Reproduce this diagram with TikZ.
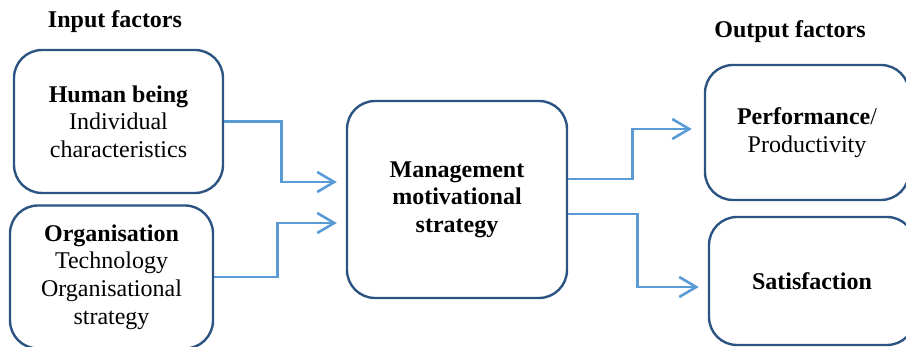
\documentclass[tikz,border=0pt]{standalone}
\usepackage{fontspec}
\setmainfont{Liberation Serif}
\usetikzlibrary{arrows.meta}

\definecolor{boxblue}{RGB}{44,84,130}
\definecolor{flowblue}{RGB}{91,155,213}

\begin{document}
\begin{tikzpicture}[x=0.5pt,y=-0.5pt,
    factor/.style={draw=boxblue,line width=1.2pt,rounded corners=14pt,
      align=center,inner sep=0pt,font=\fontsize{12}{13.8}\selectfont},
    flow/.style={draw=flowblue,line width=1.3pt,
      -{Straight Barb[length=8.5pt,width=10pt]}},
    heading/.style={anchor=base,font=\fontsize{12}{13.8}\selectfont\bfseries}]
        % Fix the frame
        \useasboundingbox (0,0) rectangle (906,347);
        \clip (0,0) rectangle (906,347);

        % Headings
        \node[heading] (inhead) at (115,28) {Input factors};
        \node[heading] (outhead) at (790,38) {Output factors};

        % Draw the boxes
        \node[factor,minimum width=104.5pt,minimum height=71.5pt] (human) at (118.5,121.5)
            {\textbf{Human being}\\Individual\\characteristics};
        \node[factor,minimum width=101.5pt,minimum height=71.5pt] (organisation) at (111.5,277)
            {\textbf{Organisation}\\Technology\\Organisational\\strategy};
        \node[factor,minimum width=110pt,minimum height=98.5pt] (strategy) at (457,199.5)
            {\textbf{Management}\\\textbf{motivational}\\\textbf{strategy}};
        \node[factor,minimum width=102pt,minimum height=67.5pt] (performance) at (807,132.5)
            {\textbf{Performance}/\\Productivity};
        \node[factor,minimum width=103pt,minimum height=64pt] (satisfaction) at (812,281)
            {\textbf{Satisfaction}};

        % Draw the arrows
        \draw[flow] (human.east) -- ++(57,0) |- ([xshift=-4.5pt,yshift=8.75pt]strategy.west);
        \draw[flow] (organisation.east) -- ++(63,0) |- ([xshift=-4.5pt,yshift=-11.75pt]strategy.west);
        \draw[flow] ([yshift=10.25pt]strategy.east) -- ++(64,0) |- ([xshift=-6pt,yshift=1.75pt]performance.west);
        \draw[flow] ([yshift=-7.25pt]strategy.east) -- ++(69,0) |- ([xshift=-4.5pt,yshift=-3pt]satisfaction.west);
    \end{tikzpicture}
\end{document}
